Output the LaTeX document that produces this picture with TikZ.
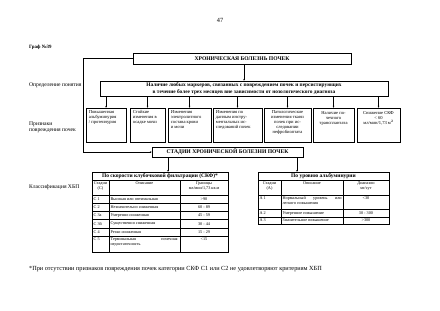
\documentclass[tikz,border=0pt]{standalone}
\usepackage{fontspec}
\setmainfont{Liberation Serif}
\usetikzlibrary{positioning,arrows.meta,calc}

\begin{document}
\begin{tikzpicture}[
    x=0.05cm, y=-0.05cm,
    every node/.style={inner sep=0pt, font=\fontsize{6}{7}\selectfont},
    title/.style={draw, line width=0.9pt, font=\fontsize{8}{10}\selectfont\bfseries},
    sign/.style={draw, line width=0.7pt, minimum height=1.7cm},
    signtxt/.style={align=left, font=\fontsize{6.5}{7.2}\selectfont},
    side/.style={anchor=west, align=left, font=\fontsize{8}{8.6}\selectfont},
    arr/.style={-{Stealth[length=2.6pt,width=2.2pt]}, line width=0.5pt},
    tbl/.style={line width=0.5pt},
    thead/.style={draw, line width=0.5pt, font=\fontsize{7.8}{8.5}\selectfont\bfseries},
  ]
    \useasboundingbox (0,0) rectangle (440,311);

    % Шапка страницы
    \node[font=\fontsize{9}{10}\selectfont] (page) at (220,20) {47};
    \node[anchor=west, font=\fontsize{7}{8}\selectfont\bfseries] (graf) at (29,47) {Граф №39};

    % ХБП и определение
    \node[title, minimum width=10.9cm, minimum height=0.55cm] (hbp) at (242,58.5) {ХРОНИЧЕСКАЯ БОЛЕЗНЬ ПОЧЕК};
    \node[draw, line width=0.9pt, minimum width=14.4cm, minimum height=0.75cm, align=center,
      font=\fontsize{7.6}{9.6}\selectfont\bfseries] (def) at (244,88.5)
      {Наличие любых маркеров, связанных с повреждением почек и персистирующих\\
       в течение более трех месяцев вне зависимости от нозологического диагноза};
    \draw[arr] (def.north |- hbp.south) -- (def.north);

    % Признаки повреждения
    \node[sign, minimum width=2.0cm] (s1) at (106,125) {};
    \node[sign, minimum width=1.75cm] (s2) at (147.5,125) {};
    \node[sign, minimum width=2.15cm] (s3) at (189.5,125) {};
    \node[sign, minimum width=2.45cm] (s4) at (237.5,125) {};
    \node[sign, minimum width=2.35cm] (s5) at (287.5,125) {};
    \node[sign, minimum width=2.05cm] (s6) at (333.5,125) {};
    \node[sign, minimum width=2.15cm] (s7) at (378.5,125) {};
    \foreach \i in {1,...,7}
      \draw[arr] (def.south -| s\i.north) -- (s\i.north);

    \node[signtxt, anchor=north west] (t1) at ([shift={(3,2.5)}]s1.north west) {Повышенная\\альбуминурия\\/ протеинурия};
    \node[signtxt, anchor=north west] (t2) at ([shift={(3,2.5)}]s2.north west) {Стойкие\\изменения в\\осадке мочи};
    \node[signtxt, anchor=north west] (t3) at ([shift={(3,2.5)}]s3.north west) {Изменения\\электролитного\\состава крови\\и мочи};
    \node[signtxt, anchor=north west] (t4) at ([shift={(3,2.5)}]s4.north west) {Изменения по\\данным инстру-\\ментальных ис-\\следований почек};
    \node[signtxt, anchor=north, align=center] (t5) at ([shift={(0,2.5)}]s5.north) {Патологические\\изменения ткани\\почек при ис-\\следовании\\нефробиоптата};
    \node[signtxt, anchor=north, align=center] (t6) at ([shift={(0,3.5)}]s6.north) {Наличие по-\\чечного\\трансплантата};
    \node[signtxt, anchor=north, align=center] (t7) at ([shift={(0,3.5)}]s7.north) {Снижение СКФ\\< 60\\мл/мин/1,73 м$^2$};

    % Стадии
    \node[title, minimum width=7.55cm, minimum height=0.5cm] (stg) at (227.5,152) {СТАДИИ ХРОНИЧЕСКОЙ БОЛЕЗНИ ПОЧЕК};
    \coordinate (lft) at (83,0);
    \draw[arr] (hbp.west) -| (lft |- stg.west) -- (stg.west);

    % Подписи слева
    \node[side] (l1) at (29,85) {Определение понятия};
    \node[side] (l2) at (29,127) {Признаки\\повреждения почек};
    \node[side] (l3) at (29,187) {Классификация ХБП};

    % Таблица СКФ
    \node[thead, minimum width=6.8cm, minimum height=0.4cm] (khead) at (160,176) {По скорости клубочковой фильтрации (СКФ)*};
    \draw[tbl] (khead.south west) rectangle (228,252);
    \foreach \yy in {195,203.2,211.4,219.6,227.8,236}
      \draw[tbl] (92,\yy) -- (228,\yy);
    \draw[tbl] (109,180) -- (109,252) (180,180) -- (180,252);
    \node[anchor=north, align=center] (kst) at (100.5,181.5) {Стадии\\(С)};
    \node[anchor=north] (kop) at (144.5,181.5) {Описание};
    \node[anchor=north, align=center] (kgr) at (204,181.5) {Границы\\мл/мин/1,73 кв.м};
    \foreach \yy/\st/\op/\gr [count=\i] in {199.1/С 1/Высокая или оптимальная/>90,
        207.3/С 2/Незначительно сниженная/60 - 89, 215.5/С 3а/Умеренно сниженная/45 - 59,
        223.7/С 3б/Существенно сниженная/30 - 44, 231.9/С 4/Резко сниженная/15 - 29}
    {
      \node[anchor=west] (ks\i) at (93.5,\yy) {\st};
      \node[anchor=west] (ko\i) at (110.5,\yy) {\op};
      \node (kg\i) at (204,\yy) {\gr};
    }
    \node[anchor=north west] (ks6) at (93.5,237.8) {С 5};
    \node[anchor=north west, text width=3.35cm, align=left] (ko6) at (110.5,237.8) {Терминальная\hfill почечная\\недостаточность};
    \node[anchor=north] (kg6) at (204,237.8) {<15};

    % Таблица альбуминурии
    \node[thead, minimum width=6.55cm, minimum height=0.4cm] (ahead) at (323.5,176) {По уровню альбуминурии};
    \draw[tbl] (ahead.south west) rectangle (389,224);
    \foreach \yy in {195,209.5,217}
      \draw[tbl] (258,\yy) -- (389,\yy);
    \draw[tbl] (281,180) -- (281,224) (343,180) -- (343,224);
    \node[anchor=north, align=center] (ast) at (269.5,181.5) {Стадии\\(А)};
    \node[anchor=north] (aop) at (312,181.5) {Описание};
    \node[anchor=north, align=center] (adi) at (366,181.5) {Диапазон\\мг/сут};
    \node[anchor=north west] (as1) at (259.5,196.8) {А 1};
    \node[anchor=north west, text width=2.95cm, align=left] (ao1) at (282.5,196.8) {Нормальный\hfill уровень\hfill или\\легкого повышения};
    \node[anchor=north] (ad1) at (366,196.8) {<30};
    \node[anchor=west] (as2) at (259.5,213.2) {А 2};
    \node[anchor=west] (ao2) at (282.5,213.2) {Умеренное повышение};
    \node (ad2) at (366,213.2) {30 - 300};
    \node[anchor=west] (as3) at (259.5,220.5) {А 3};
    \node[anchor=west] (ao3) at (282.5,220.5) {Значительное повышение};
    \node (ad3) at (366,220.5) {>300};

    \coordinate (kx) at (168,0);
    \coordinate (ax) at (297,0);
    \draw[arr] (stg.south -| kx) -- (khead.north -| kx);
    \draw[arr] (stg.south -| ax) -- (ahead.north -| ax);

    % Сноска
    \node[anchor=west, font=\fontsize{8.9}{9.5}\selectfont] (note) at (29,269)
      {*При отсутствии признаков повреждения почек категории СКФ С1 или С2 не удовлетворяют критериям ХБП};
\end{tikzpicture}
\end{document}
